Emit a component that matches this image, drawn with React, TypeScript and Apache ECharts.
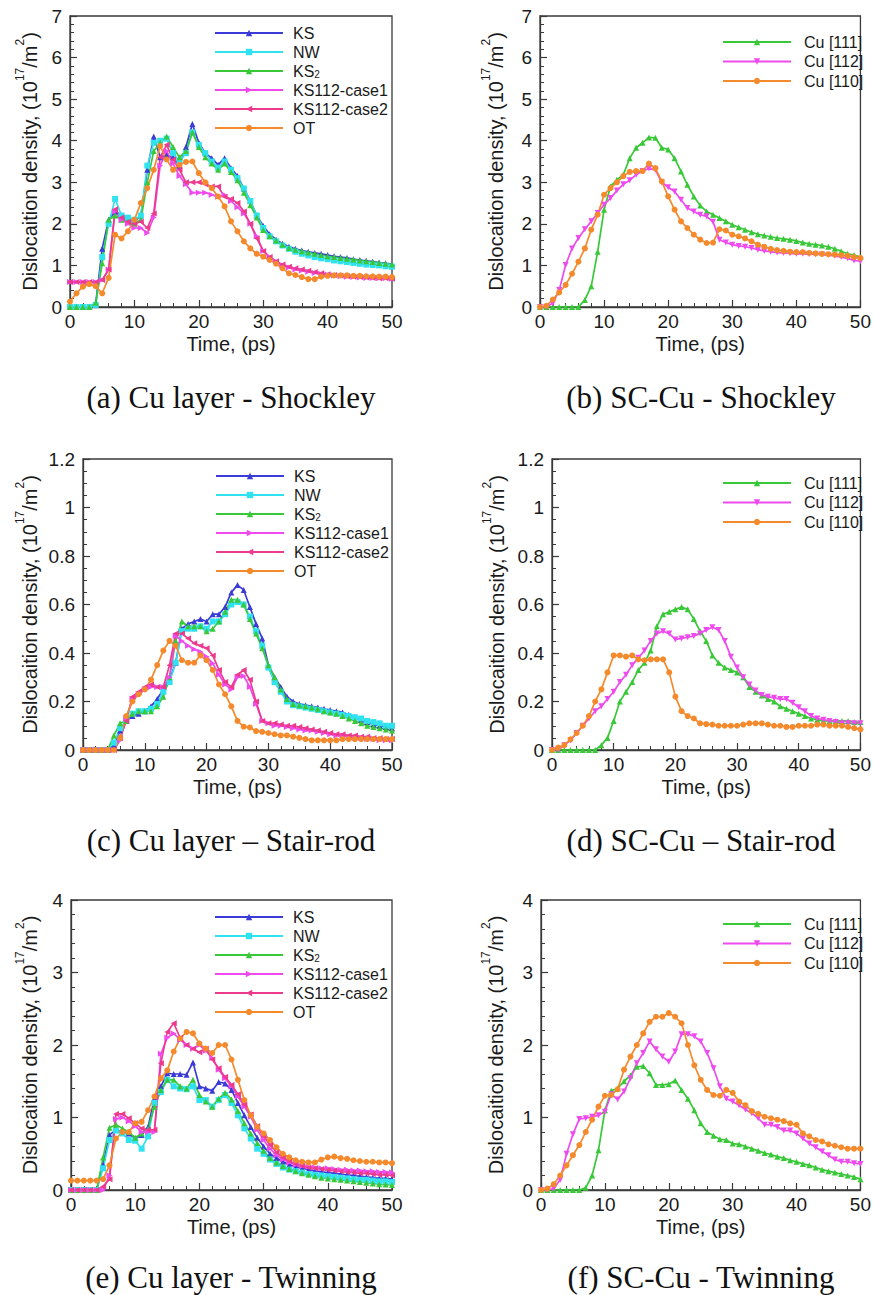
import React, { useEffect, useRef } from 'react';
import * as echarts from 'echarts';

// ---------- data ----------
const TIME = [0,1,2,3,4,5,6,7,8,9,10,11,12,13,14,15,16,17,18,19,20,21,22,23,24,25,26,27,28,29,30,31,32,33,34,35,36,37,38,39,40,41,42,43,44,45,46,47,48,49,50];

const LEFT_NAMES = ['KS', 'NW', 'KS2', 'KS112-case1', 'KS112-case2', 'OT'];
const RIGHT_NAMES = ['Cu [111]', 'Cu [112]', 'Cu [110]'];

const X_TICKS = [0, 10, 20, 30, 40, 50];

// (a) Cu layer - Shockley
const A_KS = [0,0,0,0,0.1,1.4,2.1,2.3,2.2,2.1,2.05,2.2,3.3,4.1,3.6,3.65,3.6,3.4,3.85,4.4,3.95,3.7,3.58,3.42,3.58,3.34,3.15,2.85,2.55,2.2,1.95,1.75,1.62,1.52,1.45,1.4,1.36,1.33,1.3,1.28,1.25,1.22,1.2,1.18,1.15,1.13,1.11,1.09,1.07,1.05,1.03];
const A_NW = [0,0,0,0,0.05,1.2,2.0,2.6,2.2,2.15,2.1,2.2,3.4,3.95,4.0,4.05,3.7,3.5,3.7,4.2,3.9,3.7,3.5,3.35,3.5,3.3,3.1,2.85,2.55,2.2,1.9,1.7,1.58,1.48,1.4,1.33,1.28,1.24,1.2,1.17,1.15,1.12,1.1,1.08,1.06,1.04,1.02,1.01,1.0,0.98,0.97];
const A_KS2 = [0,0,0,0,0.1,1.05,2.1,2.2,2.1,2.05,2.0,2.1,3.0,3.75,3.95,4.1,3.85,3.6,3.75,4.2,3.85,3.6,3.45,3.3,3.45,3.25,3.05,2.75,2.45,2.15,1.85,1.7,1.6,1.5,1.42,1.38,1.34,1.31,1.28,1.25,1.22,1.2,1.18,1.16,1.14,1.12,1.1,1.08,1.06,1.04,1.02];
const A_C1 = [0.6,0.6,0.6,0.6,0.6,0.65,0.9,2.3,2.1,2.0,1.9,1.9,1.78,2.15,3.4,3.75,3.45,3.15,2.95,2.75,2.75,2.75,2.7,2.65,2.7,2.55,2.4,2.25,2.0,1.7,1.35,1.2,1.1,1.0,0.95,0.9,0.88,0.85,0.82,0.8,0.78,0.76,0.74,0.73,0.72,0.71,0.7,0.7,0.69,0.69,0.68];
const A_C2 = [0.6,0.6,0.6,0.6,0.6,0.65,0.9,2.35,2.15,2.05,2.0,2.05,1.9,2.25,3.6,3.9,3.55,3.3,3.0,3.0,3.0,2.95,2.9,2.9,2.65,2.6,2.5,2.3,2.0,1.65,1.35,1.2,1.1,1.02,0.97,0.93,0.9,0.87,0.84,0.81,0.79,0.77,0.75,0.74,0.73,0.72,0.71,0.7,0.69,0.69,0.68];
const A_OT = [0.13,0.33,0.49,0.55,0.5,0.33,0.7,1.74,1.65,1.82,2.1,2.5,2.86,3.3,3.87,3.55,3.3,3.42,3.49,3.5,3.22,3.0,2.86,2.66,2.42,2.06,1.82,1.58,1.41,1.28,1.21,1.13,1.04,0.93,0.81,0.77,0.72,0.67,0.67,0.73,0.75,0.76,0.76,0.76,0.75,0.75,0.74,0.74,0.73,0.73,0.72];

// (b) SC-Cu - Shockley
const B_111 = [0,0,0,0,0,0,0,0.17,0.5,1.33,2.34,2.9,3.06,3.18,3.58,3.83,3.95,4.08,4.07,3.83,3.79,3.58,3.26,2.94,2.66,2.44,2.3,2.22,2.14,2.06,1.98,1.92,1.86,1.8,1.75,1.72,1.69,1.66,1.64,1.62,1.59,1.55,1.52,1.5,1.48,1.45,1.4,1.34,1.28,1.25,1.2];
const B_112 = [0,0,0.09,0.41,1.01,1.41,1.66,1.87,2.06,2.26,2.46,2.62,2.8,2.95,3.05,3.18,3.27,3.33,3.3,3.0,2.88,2.78,2.58,2.38,2.3,2.22,2.18,2.05,1.62,1.55,1.5,1.47,1.45,1.42,1.38,1.35,1.33,1.31,1.3,1.29,1.28,1.28,1.27,1.27,1.26,1.25,1.23,1.2,1.17,1.12,1.1];
const B_110 = [0,0.03,0.18,0.35,0.53,0.8,1.09,1.41,1.86,2.22,2.7,2.86,3.0,3.15,3.25,3.27,3.27,3.45,3.34,3.02,2.66,2.34,2.06,1.9,1.74,1.62,1.54,1.55,1.87,1.84,1.74,1.7,1.65,1.58,1.5,1.45,1.4,1.37,1.35,1.33,1.32,1.32,1.3,1.29,1.28,1.27,1.26,1.25,1.23,1.2,1.18];

// (c) Cu layer - Stair-rod
const C_KS = [0,0,0,0,0,0.02,0.08,0.12,0.14,0.15,0.16,0.18,0.21,0.25,0.29,0.36,0.5,0.52,0.53,0.54,0.53,0.56,0.56,0.59,0.65,0.68,0.66,0.59,0.52,0.46,0.35,0.3,0.26,0.22,0.2,0.19,0.185,0.18,0.175,0.17,0.165,0.16,0.155,0.145,0.135,0.125,0.115,0.105,0.1,0.095,0.09];
const C_NW = [0,0,0,0,0,0.03,0.09,0.12,0.15,0.16,0.16,0.17,0.19,0.24,0.28,0.36,0.49,0.5,0.5,0.51,0.5,0.53,0.53,0.56,0.6,0.61,0.6,0.55,0.49,0.43,0.34,0.28,0.24,0.2,0.185,0.18,0.175,0.17,0.165,0.16,0.155,0.15,0.145,0.14,0.135,0.13,0.12,0.115,0.11,0.1,0.1];
const C_KS2 = [0,0,0,0,0,0.06,0.11,0.12,0.15,0.16,0.16,0.16,0.18,0.22,0.3,0.45,0.53,0.51,0.51,0.51,0.49,0.5,0.53,0.57,0.62,0.62,0.6,0.54,0.48,0.42,0.35,0.3,0.25,0.21,0.19,0.185,0.18,0.175,0.17,0.16,0.155,0.15,0.14,0.13,0.12,0.11,0.1,0.095,0.09,0.085,0.08];
const C_C1 = [0,0,0,0,0,0,0.04,0.13,0.21,0.23,0.25,0.26,0.26,0.26,0.3,0.47,0.45,0.43,0.415,0.405,0.385,0.357,0.31,0.27,0.25,0.3,0.305,0.26,0.19,0.12,0.11,0.1,0.1,0.095,0.09,0.085,0.08,0.08,0.075,0.07,0.065,0.06,0.06,0.055,0.05,0.05,0.045,0.045,0.04,0.04,0.04];
const C_C2 = [0,0,0,0,0,0,0.05,0.12,0.22,0.24,0.26,0.27,0.26,0.26,0.35,0.48,0.48,0.46,0.44,0.43,0.42,0.39,0.33,0.28,0.26,0.31,0.33,0.29,0.2,0.12,0.11,0.11,0.105,0.1,0.1,0.095,0.09,0.085,0.08,0.075,0.07,0.065,0.065,0.06,0.06,0.055,0.055,0.05,0.05,0.045,0.045];
const C_OT = [0,0,0,0,0,0,0.05,0.14,0.2,0.23,0.25,0.29,0.35,0.41,0.45,0.43,0.37,0.36,0.36,0.39,0.37,0.33,0.27,0.23,0.18,0.12,0.096,0.093,0.078,0.075,0.07,0.065,0.06,0.06,0.055,0.05,0.045,0.04,0.04,0.04,0.04,0.04,0.045,0.045,0.045,0.045,0.045,0.045,0.045,0.045,0.045];

// (d) SC-Cu - Stair-rod
const D_111 = [0,0,0,0,0,0,0,0,0.02,0.05,0.12,0.2,0.24,0.28,0.33,0.36,0.41,0.51,0.56,0.57,0.58,0.59,0.58,0.54,0.49,0.45,0.39,0.36,0.34,0.33,0.32,0.3,0.26,0.24,0.225,0.21,0.2,0.18,0.17,0.16,0.15,0.14,0.13,0.125,0.12,0.12,0.12,0.12,0.12,0.115,0.115];
const D_112 = [0,0,0.02,0.04,0.07,0.1,0.13,0.16,0.18,0.21,0.24,0.28,0.31,0.35,0.38,0.41,0.45,0.48,0.49,0.48,0.456,0.46,0.465,0.47,0.48,0.495,0.506,0.495,0.45,0.385,0.34,0.3,0.27,0.245,0.227,0.22,0.215,0.21,0.21,0.195,0.176,0.16,0.14,0.13,0.125,0.12,0.115,0.11,0.11,0.11,0.11];
const D_110 = [0,0.01,0.02,0.044,0.07,0.1,0.14,0.2,0.25,0.32,0.39,0.39,0.385,0.39,0.374,0.37,0.374,0.374,0.374,0.32,0.22,0.16,0.14,0.13,0.11,0.107,0.105,0.1,0.1,0.1,0.1,0.105,0.11,0.11,0.11,0.105,0.1,0.1,0.095,0.095,0.1,0.1,0.1,0.105,0.105,0.1,0.1,0.1,0.095,0.09,0.085];

// (e) Cu layer - Twinning
const E_KS = [0,0,0,0,0,0.35,0.76,0.83,0.8,0.78,0.71,0.76,0.87,1.26,1.43,1.61,1.6,1.6,1.59,1.76,1.43,1.4,1.37,1.49,1.47,1.38,1.2,1.03,0.87,0.72,0.6,0.5,0.44,0.39,0.35,0.32,0.3,0.28,0.26,0.25,0.24,0.23,0.22,0.21,0.2,0.19,0.18,0.17,0.16,0.16,0.15];
const E_NW = [0,0,0,0,0,0.3,0.69,0.82,0.78,0.69,0.68,0.57,0.74,1.2,1.35,1.52,1.43,1.4,1.39,1.43,1.24,1.24,1.15,1.24,1.31,1.2,1.03,0.85,0.71,0.57,0.5,0.42,0.36,0.31,0.28,0.26,0.24,0.22,0.21,0.2,0.19,0.18,0.17,0.16,0.15,0.14,0.14,0.13,0.12,0.12,0.11];
const E_KS2 = [0,0,0,0,0,0.45,0.86,0.9,0.85,0.8,0.72,0.78,0.85,1.15,1.38,1.52,1.52,1.43,1.4,1.52,1.31,1.22,1.15,1.26,1.34,1.25,1.09,0.92,0.78,0.65,0.54,0.44,0.38,0.33,0.29,0.26,0.23,0.21,0.19,0.17,0.16,0.15,0.14,0.13,0.12,0.11,0.1,0.09,0.08,0.075,0.07];
const E_C1 = [0,0,0,0,0,0,0.2,0.98,1.0,0.95,0.88,0.8,0.8,0.8,1.88,2.1,2.16,2.07,2.0,1.95,2.0,1.92,1.82,1.66,1.54,1.43,1.29,1.15,1.01,0.83,0.69,0.57,0.48,0.42,0.38,0.35,0.33,0.32,0.31,0.3,0.3,0.29,0.28,0.28,0.27,0.27,0.26,0.26,0.25,0.25,0.24];
const E_C2 = [0,0,0,0,0,0.05,0.15,1.05,1.05,0.99,0.92,0.85,0.83,0.83,1.75,2.18,2.3,2.1,2.0,1.95,1.9,1.95,1.8,1.68,1.56,1.45,1.32,1.18,1.04,0.88,0.74,0.62,0.52,0.45,0.4,0.36,0.33,0.31,0.3,0.29,0.28,0.27,0.26,0.25,0.24,0.23,0.23,0.22,0.21,0.21,0.2];
const E_OT = [0.13,0.13,0.13,0.13,0.13,0.15,0.34,0.71,0.8,0.8,0.92,0.94,1.1,1.29,1.54,1.65,1.91,2.09,2.18,2.16,2.02,1.95,1.89,2.0,2.0,1.8,1.52,1.24,1.03,0.87,0.78,0.69,0.59,0.5,0.45,0.41,0.39,0.38,0.38,0.42,0.45,0.46,0.44,0.43,0.41,0.4,0.39,0.39,0.38,0.38,0.37];

// (f) SC-Cu - Twinning
const F_111 = [0,0,0,0,0,0,0,0.03,0.2,0.55,1.1,1.37,1.4,1.5,1.58,1.7,1.71,1.61,1.45,1.45,1.46,1.51,1.38,1.26,1.1,0.92,0.8,0.75,0.7,0.69,0.64,0.63,0.6,0.57,0.54,0.51,0.49,0.46,0.44,0.41,0.39,0.36,0.34,0.31,0.28,0.26,0.24,0.22,0.2,0.18,0.15];
const F_112 = [0,0,0.02,0.14,0.5,0.77,0.98,0.99,1.01,1.03,1.08,1.32,1.25,1.36,1.54,1.75,1.89,2.05,1.94,1.84,1.77,1.91,2.15,2.15,2.12,2.05,1.89,1.68,1.43,1.26,1.22,1.17,1.11,1.06,0.99,0.9,0.9,0.87,0.82,0.82,0.78,0.71,0.64,0.59,0.53,0.48,0.42,0.39,0.39,0.37,0.36];
const F_110 = [0,0.02,0.08,0.2,0.34,0.48,0.62,0.8,0.97,1.15,1.3,1.31,1.39,1.66,1.84,2.0,2.16,2.32,2.39,2.39,2.44,2.39,2.3,2.0,1.72,1.52,1.38,1.31,1.3,1.38,1.34,1.22,1.17,1.09,1.05,1.01,0.99,0.97,0.95,0.92,0.9,0.78,0.74,0.69,0.67,0.63,0.61,0.59,0.57,0.57,0.57];

const CAPTIONS = [
  '(a) Cu layer - Shockley',
  '(b) SC-Cu - Shockley',
  '(c) Cu layer \u2013 Stair-rod',
  '(d) SC-Cu \u2013 Stair-rod',
  '(e) Cu layer - Twinning',
  '(f) SC-Cu - Twinning',
];

// ---------- styles ----------
const SANS = '"Liberation Sans", Arial, Helvetica, sans-serif';
const SERIF = '"Liberation Serif", "Times New Roman", serif';
const INK = '#1a1a1a';
const FRAME = '#3a3a3a';

const SERIES_STYLE: Record<string, { color: string; symbol: string; rotate: number }> = {
  'KS': { color: '#3b3bd8', symbol: 'triangle', rotate: 0 },
  'NW': { color: '#30e2ef', symbol: 'rect', rotate: 0 },
  'KS2': { color: '#38c838', symbol: 'triangle', rotate: 0 },
  'KS112-case1': { color: '#ee4aee', symbol: 'triangle', rotate: -90 },
  'KS112-case2': { color: '#ec3a8c', symbol: 'triangle', rotate: 90 },
  'OT': { color: '#f48a2c', symbol: 'circle', rotate: 0 },
  'Cu [111]': { color: '#38c838', symbol: 'triangle', rotate: 0 },
  'Cu [112]': { color: '#ee4aee', symbol: 'triangle', rotate: 180 },
  'Cu [110]': { color: '#f48a2c', symbol: 'circle', rotate: 0 },
};

const PANELS = [
  { grid: { left: 70, top: 16, width: 322, height: 291 }, yMax: 7, yStep: 1, yMinor: 5, names: LEFT_NAMES, values: [A_KS, A_NW, A_KS2, A_C1, A_C2, A_OT], legend: { left: 214, top: 25, gap: 3, textPad: 5 }, nameGap: 30, cap: { x: 231, y: 397 } },
  { grid: { left: 540, top: 16, width: 322, height: 291 }, yMax: 7, yStep: 1, yMinor: 5, names: RIGHT_NAMES, values: [B_111, B_112, B_110], legend: { left: 722, top: 34, gap: 3.5, textPad: 8 }, nameGap: 34, cap: { x: 701, y: 397 } },
  { grid: { left: 83, top: 459, width: 309, height: 291 }, yMax: 1.2, yStep: 0.2, yMinor: 4, names: LEFT_NAMES, values: [C_KS, C_NW, C_KS2, C_C1, C_C2, C_OT], legend: { left: 215, top: 468, gap: 3, textPad: 5 }, nameGap: 43, cap: { x: 231, y: 840 } },
  { grid: { left: 552, top: 459, width: 310, height: 291 }, yMax: 1.2, yStep: 0.2, yMinor: 4, names: RIGHT_NAMES, values: [D_111, D_112, D_110], legend: { left: 722, top: 475, gap: 3.5, textPad: 8 }, nameGap: 45, cap: { x: 701, y: 840 } },
  { grid: { left: 71, top: 900, width: 321, height: 290 }, yMax: 4, yStep: 1, yMinor: 5, names: LEFT_NAMES, values: [E_KS, E_NW, E_KS2, E_C1, E_C2, E_OT], legend: { left: 214, top: 909, gap: 3, textPad: 5 }, nameGap: 31, cap: { x: 231, y: 1277 } },
  { grid: { left: 541, top: 900, width: 321, height: 290 }, yMax: 4, yStep: 1, yMinor: 5, names: RIGHT_NAMES, values: [F_111, F_112, F_110], legend: { left: 722, top: 916, gap: 3.5, textPad: 8 }, nameGap: 35, cap: { x: 701, y: 1277 } },
];

const Y_NAME = '{m|Dislocaition density, (10}{s|17}{m|/m}{s|2}{m|)}';

function buildOption() {
  const grid: any[] = [];
  const xAxis: any[] = [];
  const yAxis: any[] = [];
  const series: any[] = [];
  const legend: any[] = [];
  const graphic: any[] = [];

  PANELS.forEach((p, i) => {
    grid.push({ ...p.grid, show: true, borderColor: FRAME, borderWidth: 1.3, backgroundColor: 'transparent' });
    xAxis.push({
      type: 'value', gridIndex: i, min: X_TICKS[0], max: X_TICKS[X_TICKS.length - 1], interval: X_TICKS[1] - X_TICKS[0],
      name: 'Time, (ps)', nameLocation: 'middle', nameGap: 27,
      nameTextStyle: { fontFamily: SANS, fontSize: 20, color: INK },
      axisLine: { show: true, onZero: false, lineStyle: { color: FRAME, width: 1.3 } },
      axisTick: { show: true, inside: true, length: 7, lineStyle: { color: FRAME, width: 1.2 } },
      minorTick: { show: true, splitNumber: 5, length: 4, lineStyle: { color: FRAME, width: 1 } },
      axisLabel: { fontFamily: SANS, fontSize: 19, color: INK, margin: 5 },
      splitLine: { show: false },
    });
    yAxis.push({
      type: 'value', gridIndex: i, min: 0, max: p.yMax, interval: p.yStep,
      name: Y_NAME, nameLocation: 'middle', nameGap: p.nameGap, nameRotate: 90,
      nameTextStyle: {
        color: INK,
        rich: {
          m: { fontFamily: SANS, fontSize: 20, color: INK, lineHeight: 26, verticalAlign: 'bottom' },
          s: { fontFamily: SANS, fontSize: 12, color: INK, lineHeight: 14, verticalAlign: 'top' },
        },
      },
      axisLine: { show: true, onZero: false, lineStyle: { color: FRAME, width: 1.3 } },
      axisTick: { show: true, inside: true, length: 7, lineStyle: { color: FRAME, width: 1.2 } },
      minorTick: { show: true, splitNumber: p.yMinor, length: 4, lineStyle: { color: FRAME, width: 1 } },
      axisLabel: { fontFamily: SANS, fontSize: 19, color: INK, margin: 8 },
      splitLine: { show: false },
    });
    p.names.forEach((name, k) => {
      const st = SERIES_STYLE[name];
      series.push({
        type: 'line', name, xAxisIndex: i, yAxisIndex: i,
        data: TIME.map((t, j) => [t, p.values[k][j]]),
        symbol: st.symbol, symbolRotate: st.rotate, symbolSize: 6, showSymbol: true,
        lineStyle: { color: st.color, width: 1.7 },
        itemStyle: { color: st.color },
        emphasis: { disabled: true },
        clip: true,
      });
    });
    legend.push({
      orient: 'vertical', left: p.legend.left, top: p.legend.top, padding: 0,
      itemGap: p.legend.gap, itemWidth: 68, itemHeight: 8, selectedMode: false,
      data: p.names,
      formatter: (n: string) => (n === 'KS2' ? '{n|KS}{s|2}' : '{n|' + n + '}'),
      textStyle: {
        fontFamily: SANS, fontSize: 16, color: INK, lineHeight: 16, padding: [0, 0, 0, p.legend.textPad],
        rich: {
          n: { fontFamily: SANS, fontSize: 16, color: INK, lineHeight: 16 },
          s: { fontFamily: SANS, fontSize: 10, color: INK, lineHeight: 10, verticalAlign: 'bottom' },
        },
      },
    });
    graphic.push({
      type: 'text', x: p.cap.x, y: p.cap.y,
      style: { text: CAPTIONS[i], fontFamily: SERIF, fontSize: 31, fill: '#111', align: 'center', verticalAlign: 'middle' },
    });
  });

  return { animation: false, backgroundColor: '#ffffff', grid, xAxis, yAxis, series, legend, graphic };
}

export default function App() {
  const ref = useRef<HTMLDivElement>(null);
  useEffect(() => {
    if (!ref.current) return;
    const chart = echarts.init(ref.current, null, { renderer: 'svg' });
    chart.setOption(buildOption() as any);
    return () => chart.dispose();
  }, []);
  return (
    <div
      ref={ref}
      style={{ position: 'absolute', left: 0, top: 0, width: 874, height: 1295, background: '#ffffff' }}
    />
  );
}
